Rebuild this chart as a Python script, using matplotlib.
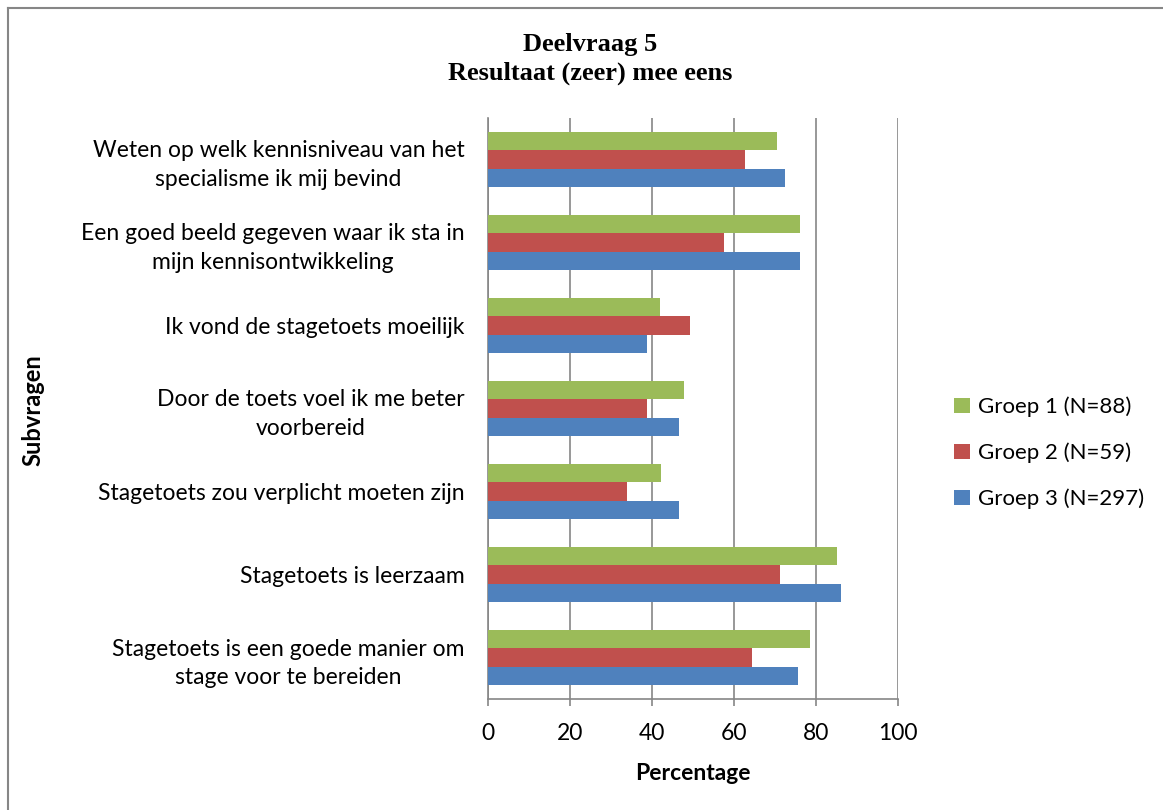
import matplotlib
matplotlib.use("Agg")
import matplotlib.pyplot as plt
import numpy as np
from matplotlib.lines import Line2D
from matplotlib.patches import Patch

categories = [
    "Weten op welk kennisniveau van het\nspecialisme ik mij bevind",
    "Een goed beeld gegeven waar ik sta in\nmijn kennisontwikkeling",
    "Ik vond de stagetoets moeilijk",
    "Door de toets voel ik me beter\nvoorbereid",
    "Stagetoets zou verplicht moeten zijn",
    "Stagetoets is leerzaam",
    "Stagetoets is een goede manier om\nstage voor te bereiden",
]
groep1 = [70.5, 76.1, 42.0, 47.7, 42.1, 85.2, 78.5]
groep2 = [62.6, 57.6, 49.2, 38.9, 33.9, 71.3, 64.4]
groep3 = [72.4, 76.1, 38.7, 46.5, 46.5, 86.0, 75.5]
series_names = ["Groep 1 (N=88)", "Groep 2 (N=59)", "Groep 3 (N=297)"]
colors = ["#9BBB59", "#C0504D", "#4F81BD"]
xticks = [0, 20, 40, 60, 80, 100]

W, H = 1163, 810
fig = plt.figure(figsize=(W / 100, H / 100), dpi=100)
fig.patch.set_facecolor("white")

font = "Lato"
fs = 16.5
ax = fig.add_axes([488 / W, 1 - 699 / H, (898 - 488) / W, (699 - 118) / H])

n = len(categories)
pos = np.arange(n)[::-1].astype(float)  # first category at top
bh = 1 / 4.5
for vals, off, c in zip([groep1, groep2, groep3], [bh, 0, -bh], colors):
    ax.barh(pos + off, vals, height=bh, color=c, zorder=3, edgecolor="none")

ax.set_xlim(0, 100)
ax.set_ylim(-0.5, n - 0.5)
ax.set_xticks(xticks)
ax.set_xticklabels([str(t) for t in xticks], fontsize=fs, family=font)
ax.set_yticks(pos)
ax.set_yticklabels(categories, fontsize=fs, family=font, ha="right",
                   multialignment="center", linespacing=1.45)
ax.tick_params(axis="y", length=0, pad=17)
ax.tick_params(axis="x", length=5, color="#868686", width=1.2, pad=12)
ax.grid(axis="x", color="#868686", linewidth=1.2, zorder=0)
for s in ["top", "right"]:
    ax.spines[s].set_visible(False)
for s in ["left", "bottom"]:
    ax.spines[s].set_color("#868686")
    ax.spines[s].set_linewidth(1.2)

ax.set_xlabel("Percentage", fontsize=fs, family=font, fontweight="bold", labelpad=14)
fig.text(33 / W, 1 - 410 / H, "Subvragen", rotation=90, fontsize=17, family=font,
         fontweight="bold", ha="center", va="center")

fig.text(590 / W, 1 - 45 / H, "Deelvraag 5", fontsize=19, family="Liberation Serif",
         fontweight="bold", ha="center", va="center")
fig.text(590 / W, 1 - 73 / H, "Resultaat (zeer) mee eens", fontsize=19,
         family="Liberation Serif", fontweight="bold", ha="center", va="center")

handles = [Patch(facecolor=c, edgecolor="none") for c in colors]
leg = fig.legend(handles, series_names, loc="center left",
                 bbox_to_anchor=(934 / W, 1 - 453 / H), frameon=False,
                 prop={"family": font, "size": 16}, handlelength=0.7, handleheight=0.7,
                 handletextpad=0.4, labelspacing=1.15)

# outer border
fig.add_artist(Line2D([7.5 / W, 1], [1 - 7.5 / H, 1 - 7.5 / H], color="#868686", linewidth=1.5))
fig.add_artist(Line2D([7.5 / W, 7.5 / W], [0, 1 - 7.5 / H], color="#868686", linewidth=1.5))

fig.savefig("out.png", dpi=100, facecolor="white")
